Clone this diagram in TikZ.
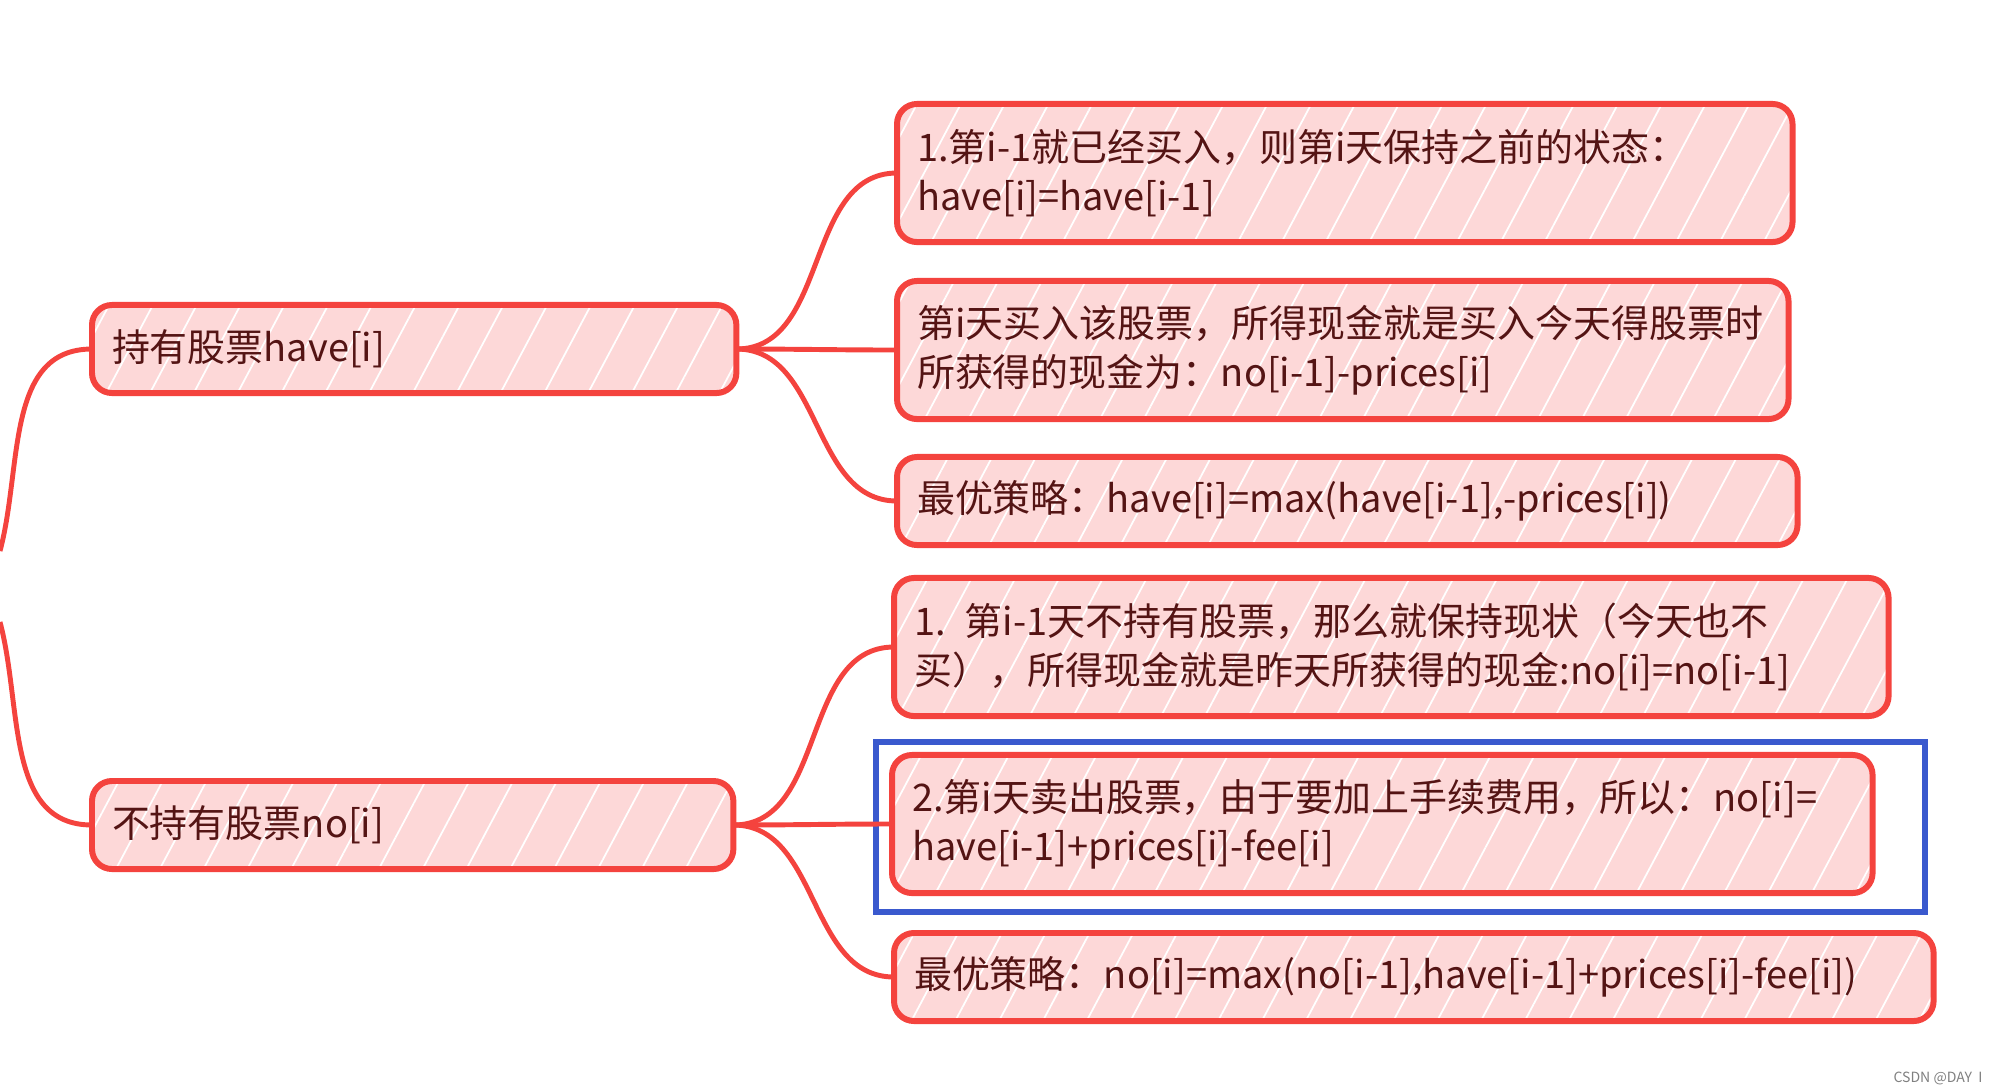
\documentclass[tikz,border=0pt]{standalone}
\usepackage{fontspec}
\setmainfont{Noto Sans CJK SC}
\usepackage{tikz}
\usetikzlibrary{positioning,patterns.meta}
\definecolor{boxred}{RGB}{244,67,62}
\definecolor{boxpink}{RGB}{253,216,216}
\definecolor{textbrown}{RGB}{84,20,20}
\definecolor{markblue}{RGB}{58,89,206}
\tikzset {
    style state/.style={
        preaction={fill=boxpink},
        pattern={Lines[angle=62,distance=11pt,line width=.5pt]},
        pattern color=white,
        draw=boxred,
        line width=1.7pt,
        rectangle, % Set the shape as a rectangle
        rounded corners=.2cm,
        minimum height=0.88cm,
        inner xsep=0.2cm,
        outer sep=0pt,
        anchor=west,
        align=left,
        text=textbrown,
        font=\fontsize{10.8}{14}\selectfont,
    },
    style case/.style={
        style state,
        minimum height=1.38cm,
    },
    style link/.style={
        draw=boxred,
        line width=1.4pt,
    },
}
\begin{document}
\begin{tikzpicture}[x=0.01cm, y=0.01cm]
\useasboundingbox (0,0) rectangle (2000,-1087);

\node[style state, text width=6.04cm] at (92,-349) (have) {持有股票have[i]};
\node[style state, text width=6.01cm] at (92,-825) (no) {不持有股票no[i]};

\node[style case, text width=8.55cm] at (897,-173) (keepHave) {1.第i-1就已经买入，则第i天保持之前的状态：\\have[i]=have[i-1]};
\node[style case, text width=8.51cm] at (897,-350) (buyToday) {第i天买入该股票，所得现金就是买入今天得股票时\\所获得的现金为：no[i-1]-prices[i]};
\node[style state, text width=8.60cm] at (897,-501) (bestHave) {最优策略：have[i]=max(have[i-1],-prices[i])};

\node[style case, text width=9.54cm] at (894,-647) (keepNo) {1. 第i-1天不持有股票，那么就保持现状（今天也不\\买），所得现金就是昨天所获得的现金:no[i]=no[i-1]};
\node[style case, text width=9.40cm] at (892,-824) (sellToday) {2.第i天卖出股票，由于要加上手续费用，所以：no[i]=\\have[i-1]+prices[i]-fee[i]};
\node[style state, text width=9.99cm] at (894,-977) (bestNo) {最优策略：no[i]=max(no[i-1],have[i-1]+prices[i]-fee[i])};

\node[draw=markblue, line width=1.7pt, minimum width=10.48cm, minimum height=1.7cm, outer sep=0pt, anchor=north west] at (876,-742) (highlight) {};

\node[text=gray, font=\fontsize{4}{5}\selectfont, anchor=east] at (1995,-1078) (mark) {CSDN @DAY\ \ I};

\coordinate (rootA) at (0,-551);
\coordinate (rootB) at (0,-622);

\draw[style link] (rootA) to[out=75, in=180] (have.west);
\draw[style link] (rootB) to[out=-75, in=180] (no.west);

\draw[style link] (have.east) to[out=0, in=180] (keepHave.west);
\draw[style link] (have.east) to[out=0, in=180] (buyToday.west);
\draw[style link] (have.east) to[out=0, in=180] (bestHave.west);
\draw[style link] (no.east) to[out=0, in=180] (keepNo.west);
\draw[style link] (no.east) to[out=0, in=180] (sellToday.west);
\draw[style link] (no.east) to[out=0, in=180] (bestNo.west);
\end{tikzpicture}
\end{document}
